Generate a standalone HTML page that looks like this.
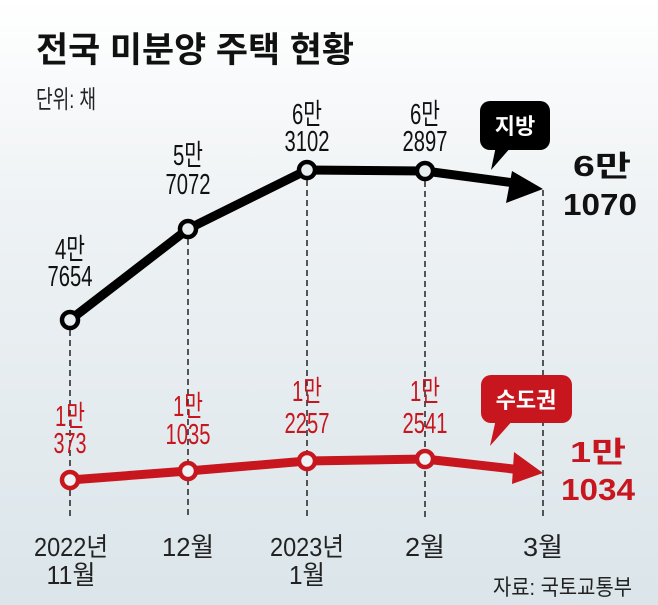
<!DOCTYPE html>
<html><head><meta charset="utf-8"><style>
body{margin:0}
svg{display:block}
text{font-family:"Liberation Sans","Noto Sans CJK KR",sans-serif}
</style></head><body>
<svg width="658" height="605" viewBox="0 0 658 605" xmlns="http://www.w3.org/2000/svg">
<defs><linearGradient id="g" x1="0" y1="0" x2="0" y2="1">
<stop offset="0" stop-color="#ffffff"/><stop offset="0.35" stop-color="#eef2f4"/><stop offset="1" stop-color="#dbe5ea"/></linearGradient></defs>
<rect width="658" height="605" fill="url(#g)"/>
<text x="36" y="62" font-size="35" font-weight="bold" fill="#111" textLength="318" lengthAdjust="spacingAndGlyphs">전국 미분양 주택 현황</text>
<text x="36" y="108" font-size="25" fill="#222" textLength="60" lengthAdjust="spacingAndGlyphs">단위: 채</text>
<g stroke="#222" stroke-width="1.5" stroke-dasharray="6,4">
<line x1="70" y1="320" x2="70" y2="518"/>
<line x1="188" y1="229" x2="188" y2="518"/>
<line x1="307" y1="170" x2="307" y2="518"/>
<line x1="425" y1="171" x2="425" y2="518"/>
<line x1="543" y1="190" x2="543" y2="518"/>
</g>
<polyline points="70,320 188,229 307,170 425,171 522,184" fill="none" stroke="#000" stroke-width="9" stroke-linejoin="round"/>
<polygon points="543,189 512,171 506,203" fill="#000"/>
<g fill="#e8eef0" stroke="#000" stroke-width="4.5">
<circle cx="70" cy="320" r="8"/><circle cx="188" cy="229" r="8"/><circle cx="307" cy="170" r="8"/><circle cx="425" cy="171" r="8"/>
</g>
<polyline points="70,480 188,471 307,461 425,459 522,470" fill="none" stroke="#c8161e" stroke-width="9" stroke-linejoin="round"/>
<polygon points="543,473 514,452 512,484" fill="#c8161e"/>
<g fill="#eef2f4" stroke="#c8161e" stroke-width="4.5">
<circle cx="70" cy="480" r="8"/><circle cx="188" cy="471" r="8"/><circle cx="307" cy="461" r="8"/><circle cx="425" cy="459" r="8"/>
</g>
<g font-size="29" fill="#111" text-anchor="middle">
<text x="70" y="259" textLength="30" lengthAdjust="spacingAndGlyphs">4만</text><text x="70" y="286" textLength="45" lengthAdjust="spacingAndGlyphs">7654</text>
<text x="188" y="165" textLength="30" lengthAdjust="spacingAndGlyphs">5만</text><text x="188" y="194" textLength="45" lengthAdjust="spacingAndGlyphs">7072</text>
<text x="307" y="124" textLength="30" lengthAdjust="spacingAndGlyphs">6만</text><text x="307" y="151" textLength="45" lengthAdjust="spacingAndGlyphs">3102</text>
<text x="425" y="124" textLength="30" lengthAdjust="spacingAndGlyphs">6만</text><text x="425" y="151" textLength="45" lengthAdjust="spacingAndGlyphs">2897</text>
</g>
<g font-size="29" fill="#c8161e" text-anchor="middle">
<text x="70" y="426" textLength="30" lengthAdjust="spacingAndGlyphs">1만</text><text x="70" y="453" textLength="33" lengthAdjust="spacingAndGlyphs">373</text>
<text x="188" y="416" textLength="30" lengthAdjust="spacingAndGlyphs">1만</text><text x="188" y="444" textLength="45" lengthAdjust="spacingAndGlyphs">1035</text>
<text x="307" y="401" textLength="30" lengthAdjust="spacingAndGlyphs">1만</text><text x="307" y="433" textLength="45" lengthAdjust="spacingAndGlyphs">2257</text>
<text x="425" y="401" textLength="30" lengthAdjust="spacingAndGlyphs">1만</text><text x="425" y="433" textLength="45" lengthAdjust="spacingAndGlyphs">2541</text>
</g>
<text x="602" y="176" font-size="29" font-weight="bold" fill="#111" text-anchor="middle" textLength="58" lengthAdjust="spacingAndGlyphs">6만</text>
<text x="600" y="215" font-size="31" font-weight="bold" fill="#111" text-anchor="middle" textLength="74" lengthAdjust="spacingAndGlyphs">1070</text>
<text x="598" y="462" font-size="29" font-weight="bold" fill="#c8161e" text-anchor="middle" textLength="56" lengthAdjust="spacingAndGlyphs">1만</text>
<text x="598" y="500" font-size="31" font-weight="bold" fill="#c8161e" text-anchor="middle" textLength="74" lengthAdjust="spacingAndGlyphs">1034</text>
<rect x="480" y="101" width="70" height="49" rx="10" fill="#000"/>
<polygon points="496,146 512,146 491,170" fill="#000"/>
<text x="515" y="134" font-size="22" font-weight="bold" fill="#fff" text-anchor="middle">지방</text>
<rect x="481" y="375" width="91" height="48" rx="10" fill="#c8161e"/>
<polygon points="496,419 514,419 490,446" fill="#c8161e"/>
<text x="526" y="408" font-size="22" font-weight="bold" fill="#fff" text-anchor="middle">수도권</text>
<g font-size="26" fill="#222" text-anchor="middle">
<text x="71" y="556" textLength="74" lengthAdjust="spacingAndGlyphs">2022년</text><text x="71" y="584" textLength="49" lengthAdjust="spacingAndGlyphs">11월</text>
<text x="188" y="556" textLength="52" lengthAdjust="spacingAndGlyphs">12월</text>
<text x="307" y="556" textLength="74" lengthAdjust="spacingAndGlyphs">2023년</text><text x="307" y="584" textLength="36" lengthAdjust="spacingAndGlyphs">1월</text>
<text x="425" y="556" textLength="40" lengthAdjust="spacingAndGlyphs">2월</text>
<text x="543" y="556" textLength="40" lengthAdjust="spacingAndGlyphs">3월</text>
</g>
<text x="493" y="595" font-size="22" fill="#222" textLength="139" lengthAdjust="spacingAndGlyphs">자료: 국토교통부</text>
</svg>
</body></html>
